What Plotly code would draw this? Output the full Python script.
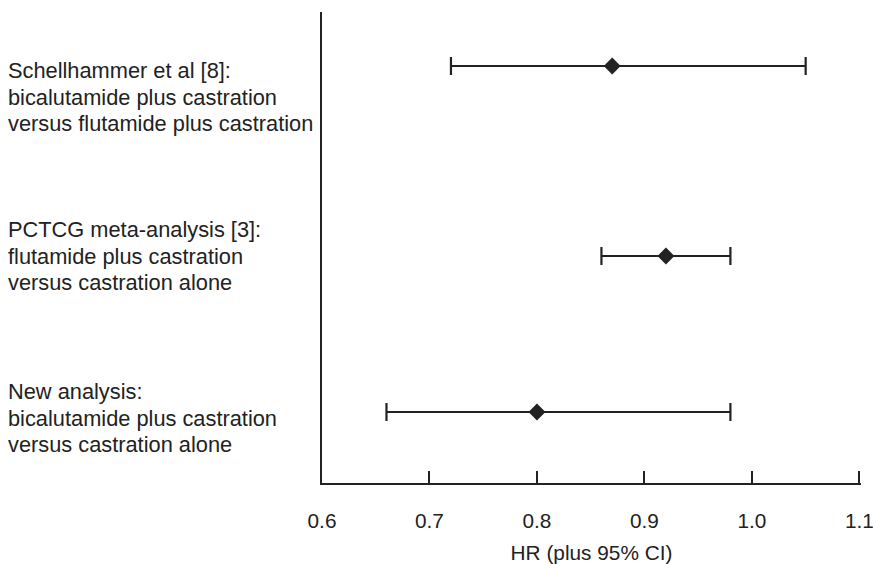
import plotly.graph_objects as go

labels = [
    "Schellhammer et al [8]:<br>bicalutamide plus castration<br>versus flutamide plus castration",
    "PCTCG meta-analysis [3]:<br>flutamide plus castration<br>versus castration alone",
    "New analysis:<br>bicalutamide plus castration<br>versus castration alone",
]
hr = [0.87, 0.92, 0.80]
ci_low = [0.72, 0.86, 0.66]
ci_high = [1.05, 0.98, 0.98]
tick_vals = [0.6, 0.7, 0.8, 0.9, 1.0, 1.1]
tick_text = ["0.6", "0.7", "0.8", "0.9", "1.0", "1.1"]

# vertical row positions (layout, in axis units measured from the bottom axis)
row_y = [417, 227, 71]
label_y = [386, 227, 65]
line_gap = 26.5

ink = "#222222"
font = "Liberation Sans, Arial, sans-serif"
fs_lab = 21.8
fs_ax = 20.8

fig = go.Figure()
fig.add_trace(go.Scatter(
    x=hr, y=row_y, mode="markers",
    marker=dict(symbol="diamond", size=13, color=ink),
    error_x=dict(type="data", symmetric=False,
                 array=[h - l for h, l in zip(ci_high, hr)],
                 arrayminus=[h - l for h, l in zip(hr, ci_low)],
                 color=ink, thickness=2.2, width=9),
    showlegend=False, hoverinfo="skip",
))

for lab, ly in zip(labels, label_y):
    lines = lab.split("<br>")
    n = len(lines)
    for i, ln in enumerate(lines):
        fig.add_annotation(x=0, xref="paper", xshift=-316, y=ly, yref="y",
                           yshift=((n - 1) / 2 - i) * line_gap,
                           text=ln, showarrow=False, xanchor="left", yanchor="middle",
                           align="left", font=dict(size=fs_lab, color=ink, family=font))

fig.update_layout(
    width=873, height=564,
    margin=dict(l=322, r=12, t=12, b=81, autoexpand=False),
    plot_bgcolor="white", paper_bgcolor="white",
    font=dict(family=font, size=fs_ax, color=ink),
    xaxis=dict(range=[0.6, 1.1015], tickvals=tick_vals, ticktext=tick_text,
               showline=True, linecolor=ink, linewidth=2, showgrid=False,
               zeroline=False, ticks="inside", ticklen=12, tickwidth=2, tickcolor=ink,
               ticklabelstandoff=18, automargin=False, ticklabeloverflow="allow",
               title=dict(text="HR (plus 95% CI)", standoff=18, font=dict(size=fs_ax))),
    yaxis=dict(range=[0, 471], showline=True, linecolor=ink, linewidth=2,
               showgrid=False, zeroline=False, showticklabels=False, ticks="",
               automargin=False),
)

fig.write_html("out.html")
